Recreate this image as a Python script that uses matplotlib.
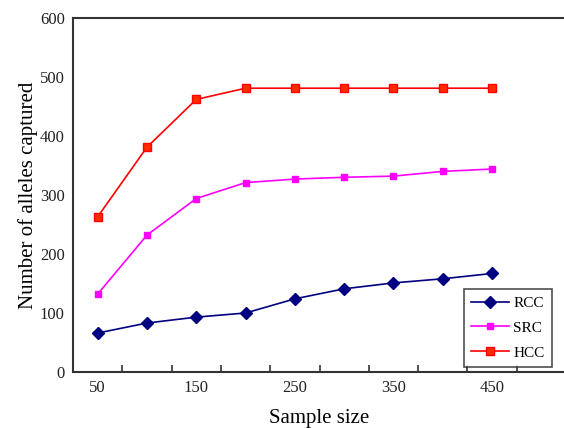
import matplotlib
matplotlib.use("Agg")
import matplotlib.pyplot as plt

# data
sample_size = [50, 100, 150, 200, 250, 300, 350, 400, 450]
rcc = [66, 83, 93, 100, 124, 141, 151, 158, 167]
src = [132, 232, 294, 321, 327, 330, 332, 340, 344]
hcc = [263, 381, 462, 481, 481, 481, 481, 481, 481]
x_tick_labels = [50, 150, 250, 350, 450]
y_ticks = [0, 100, 200, 300, 400, 500, 600]

plt.rcParams['font.family'] = ['Liberation Serif', 'DejaVu Serif']

fig = plt.figure(figsize=(5.64, 4.28), dpi=100)
ax = fig.add_axes([73 / 564, 56 / 428, 493 / 564, 354 / 428])

ax.plot(sample_size, rcc, color='#000080', lw=1.2, marker='D', ms=6, label='RCC')
ax.plot(sample_size, src, color='#FF00FF', lw=1.2, marker='s', ms=4.5, label='SRC')
ax.plot(sample_size, hcc, color='#FF0000', lw=1.2, marker='s', ms=5.5,
        markerfacecolor='#FF2a00', markeredgecolor='#FF0000', label='HCC')

ax.set_xlim(25, 525)
ax.set_ylim(0, 600)

# category-style axis: labels at every other point, ticks between categories
ax.set_xticks(x_tick_labels)
ax.set_xticklabels([str(v) for v in x_tick_labels])
ax.tick_params(axis='x', which='major', length=0, pad=6, labelsize=12, labelcolor='#222222')
ax.set_xticks(list(range(75, 525, 50)), minor=True)
ax.tick_params(axis='x', which='minor', direction='in', length=5, width=1.2, color='#333333')

ax.set_yticks(y_ticks)
ax.tick_params(axis='y', length=0, pad=6, labelsize=12, labelcolor='#222222')

for side in ['left', 'bottom', 'top']:
    ax.spines[side].set_color('#333333')
    ax.spines[side].set_linewidth(1.5)
ax.spines['right'].set_visible(False)

ax.set_xlabel('Sample size', fontsize=15, labelpad=9)
ax.set_ylabel('Number of alleles captured', fontsize=15, labelpad=1)

leg = ax.legend(loc='lower right', bbox_to_anchor=(552 / 564, 61 / 428),
                bbox_transform=fig.transFigure, fontsize=11, frameon=True,
                fancybox=False, handlelength=2.5, handletextpad=0.27,
                labelspacing=0.73, borderpad=0.48, borderaxespad=0)
leg.get_frame().set_edgecolor('#222222')
leg.get_frame().set_linewidth(1.2)

fig.savefig('out.png', dpi=100)
